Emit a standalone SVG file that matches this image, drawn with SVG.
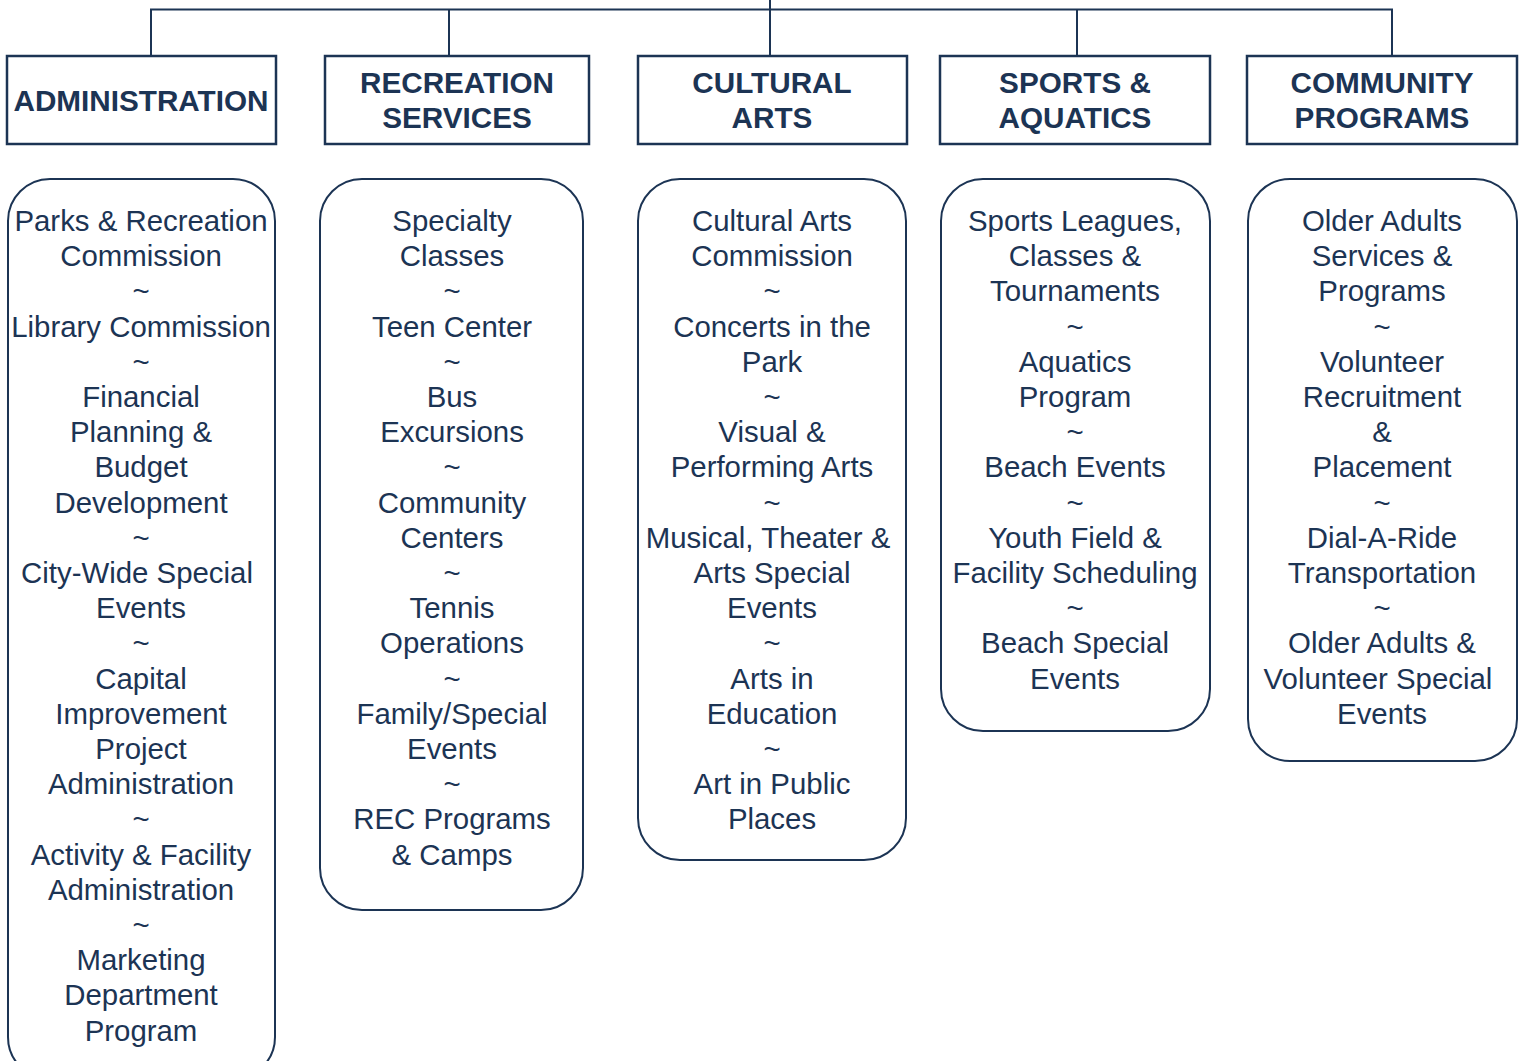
<svg xmlns="http://www.w3.org/2000/svg" width="1523" height="1061" viewBox="0 0 1523 1061">
<style>
.hdr{fill:#fff;stroke:#1c3454;stroke-width:2.5}
.box{fill:#fff;stroke:#1c3454;stroke-width:2}
.ht{font-family:"Liberation Sans",Arial,sans-serif;font-weight:bold;font-size:29.7px;fill:#1c3454;text-anchor:middle}
.bt{font-family:"Liberation Sans",Arial,sans-serif;font-size:29.4px;fill:#1c3454;text-anchor:middle}
.con{fill:none;stroke:#1c3454;stroke-width:2}
</style>
<rect width="1523" height="1061" fill="#fff"/>
<g id="connectors">
<path class="con" d="M770,0 V56 M151,56 V9.5 H1392 V56 M449,9.5 V56 M1077,9.5 V56"/>
</g>
<g id="administration">
<rect class="hdr" x="7" y="56" width="269" height="88"/>
<text class="ht" x="141" y="111">ADMINISTRATION</text>
</g>
<g id="administration-list">
<rect class="box" x="8" y="179" width="267" height="900" rx="42" ry="42"/>
<text class="bt" y="231"><tspan x="141">Parks &amp; Recreation</tspan><tspan x="141" dy="35.2">Commission</tspan><tspan x="141" dy="35.2">~</tspan><tspan x="141" dy="35.2">Library Commission</tspan><tspan x="141" dy="35.2">~</tspan><tspan x="141" dy="35.2">Financial</tspan><tspan x="141" dy="35.2">Planning &amp;</tspan><tspan x="141" dy="35.2">Budget</tspan><tspan x="141" dy="35.2">Development</tspan><tspan x="141" dy="35.2">~</tspan><tspan x="137" dy="35.2">City-Wide Special</tspan><tspan x="141" dy="35.2">Events</tspan><tspan x="141" dy="35.2">~</tspan><tspan x="141" dy="35.2">Capital</tspan><tspan x="141" dy="35.2">Improvement</tspan><tspan x="141" dy="35.2">Project</tspan><tspan x="141" dy="35.2">Administration</tspan><tspan x="141" dy="35.2">~</tspan><tspan x="141" dy="35.2">Activity &amp; Facility</tspan><tspan x="141" dy="35.2">Administration</tspan><tspan x="141" dy="35.2">~</tspan><tspan x="141" dy="35.2">Marketing</tspan><tspan x="141" dy="35.2">Department</tspan><tspan x="141" dy="35.2">Program</tspan></text>
</g>
<g id="recreation-services">
<rect class="hdr" x="325" y="56" width="264" height="88"/>
<text class="ht" y="93"><tspan x="457">RECREATION</tspan><tspan x="457" dy="35">SERVICES</tspan></text>
</g>
<g id="recreation-list">
<rect class="box" x="320" y="179" width="263" height="731" rx="42" ry="42"/>
<text class="bt" y="231"><tspan x="452">Specialty</tspan><tspan x="452" dy="35.2">Classes</tspan><tspan x="452" dy="35.2">~</tspan><tspan x="452" dy="35.2">Teen Center</tspan><tspan x="452" dy="35.2">~</tspan><tspan x="452" dy="35.2">Bus</tspan><tspan x="452" dy="35.2">Excursions</tspan><tspan x="452" dy="35.2">~</tspan><tspan x="452" dy="35.2">Community</tspan><tspan x="452" dy="35.2">Centers</tspan><tspan x="452" dy="35.2">~</tspan><tspan x="452" dy="35.2">Tennis</tspan><tspan x="452" dy="35.2">Operations</tspan><tspan x="452" dy="35.2">~</tspan><tspan x="452" dy="35.2">Family/Special</tspan><tspan x="452" dy="35.2">Events</tspan><tspan x="452" dy="35.2">~</tspan><tspan x="452" dy="35.2">REC Programs</tspan><tspan x="452" dy="35.2">&amp; Camps</tspan></text>
</g>
<g id="cultural-arts">
<rect class="hdr" x="638" y="56" width="269" height="88"/>
<text class="ht" y="93"><tspan x="772">CULTURAL</tspan><tspan x="772" dy="35">ARTS</tspan></text>
</g>
<g id="cultural-list">
<rect class="box" x="638" y="179" width="268" height="681" rx="42" ry="42"/>
<text class="bt" y="231"><tspan x="772">Cultural Arts</tspan><tspan x="772" dy="35.2">Commission</tspan><tspan x="772" dy="35.2">~</tspan><tspan x="772" dy="35.2">Concerts in the</tspan><tspan x="772" dy="35.2">Park</tspan><tspan x="772" dy="35.2">~</tspan><tspan x="772" dy="35.2">Visual &amp;</tspan><tspan x="772" dy="35.2">Performing Arts</tspan><tspan x="772" dy="35.2">~</tspan><tspan x="768" dy="35.2">Musical, Theater &amp;</tspan><tspan x="772" dy="35.2">Arts Special</tspan><tspan x="772" dy="35.2">Events</tspan><tspan x="772" dy="35.2">~</tspan><tspan x="772" dy="35.2">Arts in</tspan><tspan x="772" dy="35.2">Education</tspan><tspan x="772" dy="35.2">~</tspan><tspan x="772" dy="35.2">Art in Public</tspan><tspan x="772" dy="35.2">Places</tspan></text>
</g>
<g id="sports-aquatics">
<rect class="hdr" x="940" y="56" width="270" height="88"/>
<text class="ht" y="93"><tspan x="1075">SPORTS &amp;</tspan><tspan x="1075" dy="35">AQUATICS</tspan></text>
</g>
<g id="sports-list">
<rect class="box" x="941" y="179" width="269" height="552" rx="42" ry="42"/>
<text class="bt" y="231"><tspan x="1075">Sports Leagues,</tspan><tspan x="1075" dy="35.2">Classes &amp;</tspan><tspan x="1075" dy="35.2">Tournaments</tspan><tspan x="1075" dy="35.2">~</tspan><tspan x="1075" dy="35.2">Aquatics</tspan><tspan x="1075" dy="35.2">Program</tspan><tspan x="1075" dy="35.2">~</tspan><tspan x="1075" dy="35.2">Beach Events</tspan><tspan x="1075" dy="35.2">~</tspan><tspan x="1075" dy="35.2">Youth Field &amp;</tspan><tspan x="1075" dy="35.2">Facility Scheduling</tspan><tspan x="1075" dy="35.2">~</tspan><tspan x="1075" dy="35.2">Beach Special</tspan><tspan x="1075" dy="35.2">Events</tspan></text>
</g>
<g id="community-programs">
<rect class="hdr" x="1247" y="56" width="270" height="88"/>
<text class="ht" y="93"><tspan x="1382">COMMUNITY</tspan><tspan x="1382" dy="35">PROGRAMS</tspan></text>
</g>
<g id="community-list">
<rect class="box" x="1248" y="179" width="269" height="582" rx="42" ry="42"/>
<text class="bt" y="231"><tspan x="1382">Older Adults</tspan><tspan x="1382" dy="35.2">Services &amp;</tspan><tspan x="1382" dy="35.2">Programs</tspan><tspan x="1382" dy="35.2">~</tspan><tspan x="1382" dy="35.2">Volunteer</tspan><tspan x="1382" dy="35.2">Recruitment</tspan><tspan x="1382" dy="35.2">&amp;</tspan><tspan x="1382" dy="35.2">Placement</tspan><tspan x="1382" dy="35.2">~</tspan><tspan x="1382" dy="35.2">Dial-A-Ride</tspan><tspan x="1382" dy="35.2">Transportation</tspan><tspan x="1382" dy="35.2">~</tspan><tspan x="1382" dy="35.2">Older Adults &amp;</tspan><tspan x="1378" dy="35.2">Volunteer Special</tspan><tspan x="1382" dy="35.2">Events</tspan></text>
</g>
</svg>
